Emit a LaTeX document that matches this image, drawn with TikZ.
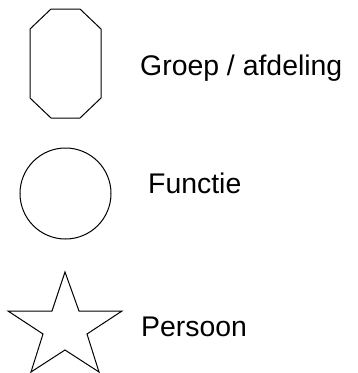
\documentclass[tikz,border=0pt]{standalone}
\usepackage{fontspec}
\setmainfont{Liberation Sans}
\usepackage{tikz}
\usetikzlibrary{positioning}

\begin{document}
\begin{tikzpicture}[
	x=1pt, y=-1pt,
	legendshape/.style={draw=black, line width=1pt, line join=miter},
	legendlabel/.style={anchor=base west, inner sep=0pt, font=\fontsize{28.4}{34}\selectfont}
	]
	\useasboundingbox (0,0) rectangle (358,373);
	
	% Shapes
	\draw[legendshape] (51,9) -- (80,9) -- (101,29) -- (101,98) -- (80,118)
		-- (51,118) -- (30,98) -- (30,29) -- cycle;
	\draw[legendshape] (65.5,193.5) circle[radius=45.5];
	\draw[legendshape] (65,272) -- (79,311) -- (122,311) -- (87,334) -- (99,372)
		-- (65,350) -- (31,372) -- (43,334) -- (8,311) -- (52,311) -- cycle;
	
	% Labels
	\node (groep) [legendlabel] at (140,75) {Groep / afdeling};
	\node (functie) [legendlabel] at (148,193) {Functie};
	\node (persoon) [legendlabel] at (141,336) {Persoon};
	
\end{tikzpicture}
\end{document}
